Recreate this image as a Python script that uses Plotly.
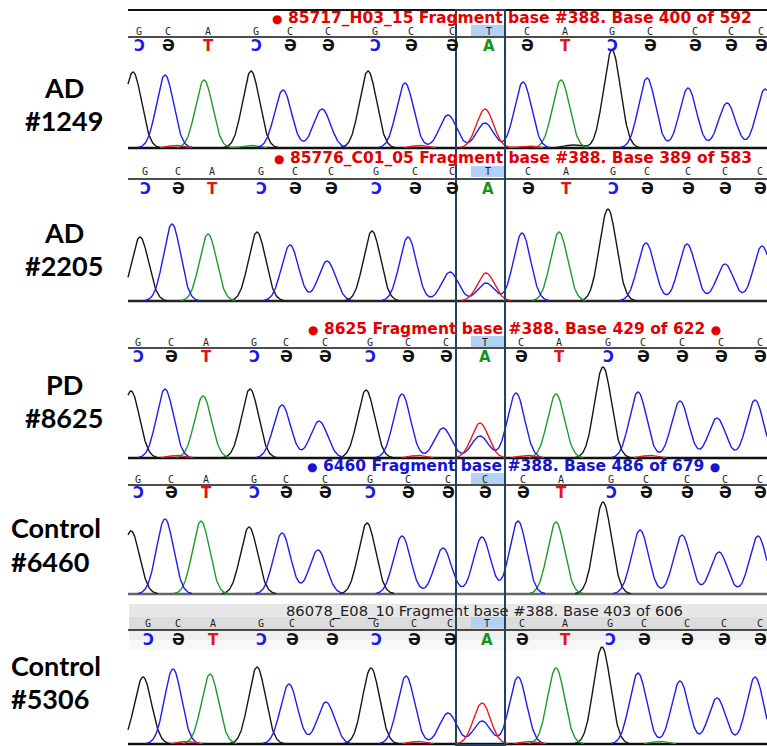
import numpy as np
import plotly.graph_objects as go

W, H = 767, 746

# ---------------- data ----------------
label_top = ["AD", "AD", "PD", "Control", "Control"]
label_bottom = ["#1249", "#2205", "#8625", "#6460", "#5306"]
header_titles = [
    "● 85717_H03_15 Fragment base #388. Base 400 of 592",
    "● 85776_C01_05 Fragment base #388. Base 389 of 583",
    "● 8625 Fragment base #388. Base 429 of 622 ●",
    "● 6460 Fragment base #388. Base 486 of 679 ●",
    "86078_E08_10 Fragment base #388. Base 403 of 606",
]
calls_1 = list("GCAGCCGCCTCAGCCCC")
calls_2 = list("GCAGCCGCCTCAGCCCC")
calls_3 = list("GCAGCCGCCTCAGCCCC")
calls_4 = list("GCAGCCGCCCCAGCCCC")
calls_5 = list("GCAGCCGCCTCAGCCCC")
call_pos_1 = [139, 168, 208, 256, 290, 328, 375, 411, 452, 489, 527, 565, 612, 650, 695, 731, 761]
call_pos_2 = [145, 178, 212, 261, 295, 331, 376, 415, 452, 488, 528, 566, 613, 647, 688, 725, 760]
call_pos_3 = [138, 171, 206, 254, 286, 325, 370, 408, 446, 485, 521, 559, 608, 643, 682, 721, 760]
call_pos_4 = [138, 171, 206, 254, 286, 325, 370, 408, 448, 485, 523, 561, 611, 646, 687, 725, 760]
call_pos_5 = [148, 178, 213, 261, 292, 332, 376, 414, 450, 487, 522, 565, 610, 644, 687, 724, 760]

# chromatogram peaks: scan position, dye channel, peak height
peak_pos_1 = [133, 165, 204, 251, 283, 322, 368, 405, 448, 485, 485, 523, 561, 612, 647, 688, 727, 765,
              176, 251, 420, 528, 572]
peak_dye_1 = list("KBGKBBKBBRBBGKBBBB" + "RGRRK")
peak_h_1 = [76, 73, 68, 77, 58, 39, 77, 65, 33, 39, 25, 66, 68, 98, 70, 60, 45, 59,
            2.5, 2.5, 2.5, 2, 3]

peak_pos_2 = [140, 172, 208, 257, 290, 327, 372, 408, 450, 486, 486, 522, 559, 608, 646, 687, 725, 762]
peak_dye_2 = list("KBGKBBKBBRBBGKBBBB")
peak_h_2 = [64, 77, 67, 69, 56, 40, 70, 64, 29, 28, 18, 68, 69, 92, 58, 57, 37, 55]

peak_pos_3 = [131, 165, 203, 250, 282, 319, 366, 402, 443, 480, 480, 516, 556, 603, 638, 680, 717, 755,
              177, 418, 528, 650]
peak_dye_3 = list("KBGKBBKBBRBBGKBBBB" + "RRRR")
peak_h_3 = [67, 69, 62, 69, 53, 37, 68, 64, 30, 35, 22, 65, 64, 91, 66, 57, 40, 58,
            2.5, 2.5, 2.5, 2.5]

peak_pos_4 = [131, 165, 201, 249, 282, 318, 367, 402, 443, 482, 518, 556, 603, 640, 682, 719, 758]
peak_dye_4 = list("KBGKBBKBBBBGKBBBB")
peak_h_4 = [63, 75, 73, 67, 61, 44, 71, 58, 46, 57, 73, 72, 92, 64, 59, 42, 58]

peak_pos_5 = [143, 173, 210, 257, 289, 326, 371, 406, 448, 482, 482, 518, 556, 602, 638, 680, 717, 755,
              187, 418, 530, 660]
peak_dye_5 = list("KBGKBBKBBRBBGKBBBB" + "RRRG")
peak_h_5 = [67, 75, 70, 77, 60, 42, 76, 68, 31, 41, 23, 67, 76, 97, 71, 63, 46, 67,
            2.5, 2.5, 2.5, 2.5]

# ---------------- styling / geometry ----------------
SIG = 8.5
DYE_COL = {"K": "#161616", "G": "#1f9a2b", "B": "#1d1df0", "R": "#ee1b1b"}
COMP = {"G": ("Ɔ", "#1a1ae6"), "C": ("Ә", "#111111"), "A": ("T", "#e31414"), "T": ("A", "#15931f")}
BULLET = '<span style="font-size:12px">●</span>'

panels = [
    dict(calls=calls_1, cpos=call_pos_1, pp=peak_pos_1, pd=peak_dye_1, ph=peak_h_1,
         base=148, title_y=18, row1=31, line=37, row2=45, tx=270, tcol="#e30000", bold=True, bcol="#111"),
    dict(calls=calls_2, cpos=call_pos_2, pp=peak_pos_2, pd=peak_dye_2, ph=peak_h_2,
         base=301, title_y=158, row1=172, line=179, row2=188, tx=272, tcol="#e30000", bold=True, bcol="#222"),
    dict(calls=calls_3, cpos=call_pos_3, pp=peak_pos_3, pd=peak_dye_3, ph=peak_h_3,
         base=458, title_y=329, row1=342, line=348, row2=356, tx=306, tcol="#e30000", bold=True, bcol="#111"),
    dict(calls=calls_4, cpos=call_pos_4, pp=peak_pos_4, pd=peak_dye_4, ph=peak_h_4,
         base=594, title_y=466, row1=479, line=485, row2=492, tx=305, tcol="#1414d2", bold=True, bcol="#666"),
    dict(calls=calls_5, cpos=call_pos_5, pp=peak_pos_5, pd=peak_dye_5, ph=peak_h_5,
         base=744, title_y=610, row1=623, line=630, row2=639, tx=284, tcol="#222222", bold=False, bcol="#111"),
]
label_y = [(88, 120), (232, 265), (384, 417), (527, 561), (665, 698)]

def py(p):
    return 1 - p / H

xs = np.arange(128, 767.01, 0.5)
fig = go.Figure()
shapes, annos = [], []
layout_axes = {}

for i, p in enumerate(panels):
    yname = "y" if i == 0 else f"y{i+1}"
    key = "yaxis" if i == 0 else f"yaxis{i+1}"
    top = p["base"] - 112
    layout_axes[key] = dict(domain=[py(p["base"]), py(top)], range=[0, 112], visible=False,
                            fixedrange=True, anchor="x")
    for dye in ["K", "G", "B", "R"]:
        y = np.zeros_like(xs)
        found = False
        for pos, d, h in zip(p["pp"], p["pd"], p["ph"]):
            if d == dye:
                found = True
                y += h * np.exp(-(xs - pos) ** 2 / (2 * SIG ** 2))
        if not found:
            continue
        y[y < 0.4] = np.nan
        fig.add_trace(go.Scatter(x=xs, y=y, mode="lines", yaxis=yname, xaxis="x",
                                 line=dict(color=DYE_COL[dye], width=1.4),
                                 hoverinfo="skip", showlegend=False, connectgaps=False))
    # baseline
    shapes.append(dict(type="line", xref="x", yref="paper", x0=128, x1=767,
                       y0=py(p["base"]), y1=py(p["base"]), line=dict(color=p["bcol"], width=2.5),
                       layer="below"))
    # header
    if i == 4:
        for (a, b, c) in [(604, 617, "#e7e7e7"), (617, 630, "#dcdcdc"), (630, 640, "#efefef"), (640, 650, "#f8f8f8")]:
            shapes.append(dict(type="rect", xref="x", yref="paper", x0=129, x1=767, y0=py(b), y1=py(a),
                               fillcolor=c, line=dict(width=0), layer="below"))
    shapes.append(dict(type="line", xref="x", yref="paper", x0=128, x1=767,
                       y0=py(p["line"]), y1=py(p["line"]), line=dict(color="#111", width=1.5), layer="below"))
    # highlighted base
    shapes.append(dict(type="rect", xref="x", yref="paper", x0=471, x1=504,
                       y0=py(p["row1"] + 5), y1=py(p["row1"] - 6),
                       fillcolor="#b3d1f4", line=dict(width=0), layer="below"))
    title = header_titles[i].replace("●", BULLET)
    annos.append(dict(x=p["tx"], y=py(p["title_y"]), xref="x", yref="paper", text=title,
                      showarrow=False, xanchor="left", yanchor="middle",
                      font=dict(family="DejaVu Sans", size=15.5 if p["bold"] else 14.7, color=p["tcol"],
                                weight="bold" if p["bold"] else "normal")))
    for c, xp in zip(p["calls"], p["cpos"]):
        annos.append(dict(x=xp, y=py(p["row1"]), xref="x", yref="paper", text=c, showarrow=False,
                          xanchor="center", yanchor="middle",
                          font=dict(family="DejaVu Sans Mono", size=10, color="#222")))
        g, col = COMP[c]
        annos.append(dict(x=xp, y=py(p["row2"] + 1), xref="x", yref="paper", text=g, showarrow=False,
                          xanchor="center", yanchor="middle",
                          font=dict(family="DejaVu Sans", size=15, color=col, weight="bold")))
    # sample labels
    ctrl = label_top[i] == "Control"
    lx = 9 if ctrl else 64
    anc = "left" if ctrl else "center"
    for txt, yy in zip([label_top[i], label_bottom[i]], label_y[i]):
        annos.append(dict(x=lx, y=py(yy), xref="x", yref="paper", text=txt, showarrow=False,
                          xanchor=anc, yanchor="middle",
                          font=dict(family="Lato", size=27, color="#000", weight="bold")))

# top border of first panel
shapes.append(dict(type="line", xref="x", yref="paper", x0=128, x1=767, y0=py(10), y1=py(10),
                   line=dict(color="#111", width=2), layer="below"))
# highlight box around the variant position
shapes.append(dict(type="rect", xref="x", yref="paper", x0=456, x1=505, y0=py(745), y1=py(10),
                   line=dict(color="#22405f", width=2), fillcolor="rgba(0,0,0,0)", layer="above"))

fig.update_layout(
    width=W, height=H, margin=dict(l=0, r=0, t=0, b=0),
    paper_bgcolor="white", plot_bgcolor="rgba(0,0,0,0)",
    xaxis=dict(range=[0, W], domain=[0, 1], visible=False, fixedrange=True),
    shapes=shapes, annotations=annos, showlegend=False,
    **layout_axes,
)
fig.write_html("out.html", config={"displayModeBar": False},
               post_script="document.body.style.margin='0';document.body.style.overflow='hidden';")
